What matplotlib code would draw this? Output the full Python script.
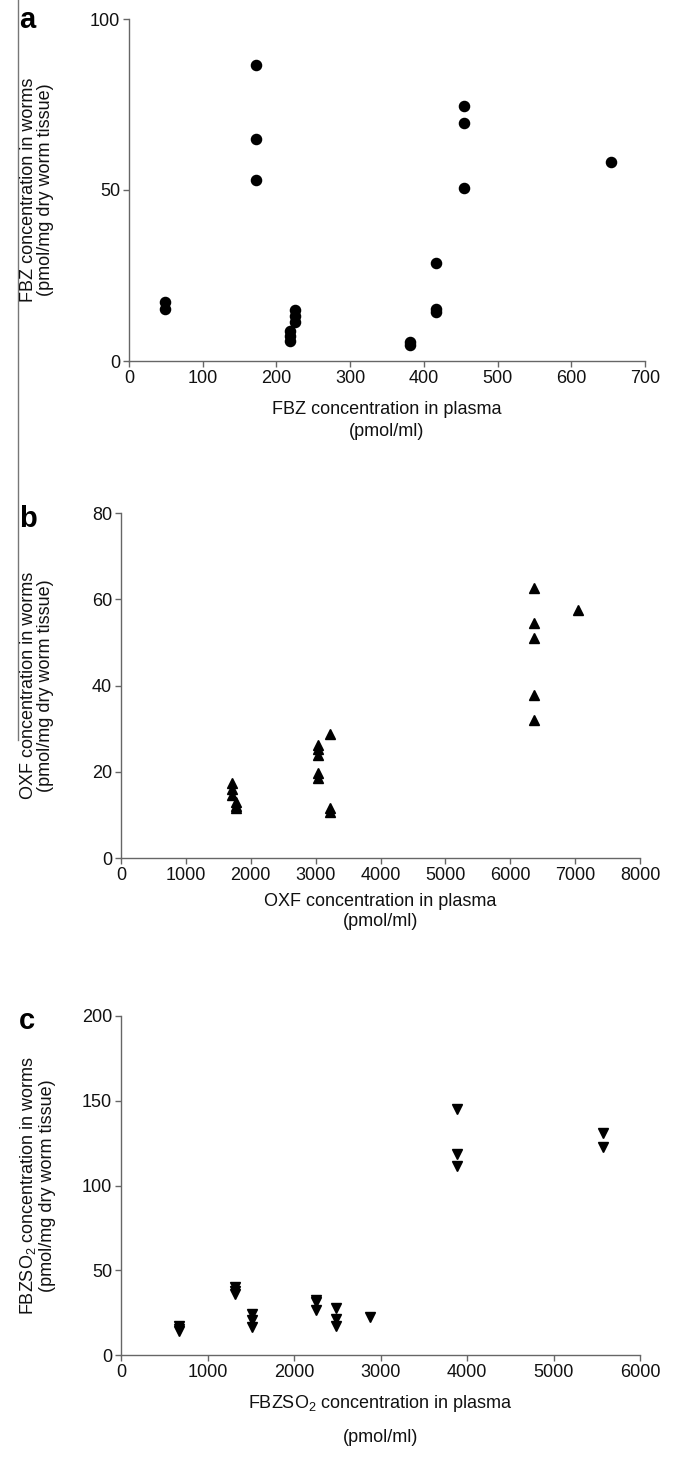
import matplotlib.pyplot as plt
from matplotlib.lines import Line2D

plt.rcParams['font.family'] = ['Liberation Sans', 'DejaVu Sans']
plt.rcParams['mathtext.fontset'] = 'custom'
plt.rcParams['mathtext.rm'] = 'Liberation Sans'
plt.rcParams['mathtext.it'] = 'Liberation Sans:italic'

# panel a - FBZ (circles)
fbz_plasma = [49, 49, 172, 172, 172, 218, 218, 218, 225, 225, 225,
              381, 381, 416, 416, 416, 455, 455, 455, 654]
fbz_worm = [17.3, 15.1, 86.5, 64.9, 52.9, 8.8, 7.3, 5.8, 14.8, 13.2, 11.5,
            5.5, 4.8, 28.8, 15.1, 14.3, 74.6, 69.5, 50.6, 58.1]

# panel b - OXF (up triangles)
oxf_plasma = [1715, 1715, 1715, 1777, 1777, 1777, 3040, 3040, 3040, 3040, 3040,
              3215, 3215, 3215, 6359, 6359, 6359, 6359, 6359, 7046]
oxf_worm = [17.3, 16.0, 14.6, 13.0, 12.0, 11.5, 26.2, 25.3, 23.9, 19.6, 18.6,
            28.8, 11.5, 10.6, 62.6, 54.5, 50.9, 37.9, 32.1, 57.6]

# panel c - FBZSO2 (down triangles)
fbzso2_plasma = [675, 675, 675, 1315, 1315, 1315, 1516, 1516, 1516,
                 2256, 2256, 2256, 2484, 2484, 2484, 2877, 3890, 3890, 3890,
                 5570, 5570]
fbzso2_worm = [17.0, 15.5, 14.0, 40.2, 37.9, 35.8, 24.4, 20.6, 16.7,
               32.5, 31.2, 26.7, 27.9, 21.2, 17.1, 22.5, 145, 118.8, 111.7,
               131, 123]

W, H = 676, 1461
fig = plt.figure(figsize=(W / 100, H / 100), dpi=100)


def px_axes(left, right, top, bottom):
    return fig.add_axes([left / W, 1 - bottom / H, (right - left) / W, (bottom - top) / H])


panels = [
    dict(box=(129, 645, 19, 361), x=fbz_plasma, y=fbz_worm, marker='o', ms=7.3,
         xticks=range(0, 701, 100), yticks=[0, 50, 100],
         ylab="FBZ concentration in worms\n(pmol/mg dry worm tissue)",
         xlab=["FBZ concentration in plasma", "(pmol/ml)"], xlab_y=(410, 432),
         letter='a', letter_y=20),
    dict(box=(121, 640, 513, 858), x=oxf_plasma, y=oxf_worm, marker='^', ms=7.3,
         xticks=range(0, 8001, 1000), yticks=range(0, 81, 20),
         ylab="OXF concentration in worms\n(pmol/mg dry worm tissue)",
         xlab=["OXF concentration in plasma", "(pmol/ml)"], xlab_y=(901, 922),
         letter='b', letter_y=519),
    dict(box=(121, 640, 1016, 1355), x=fbzso2_plasma, y=fbzso2_worm, marker='v', ms=7.3,
         xticks=range(0, 6001, 1000), yticks=range(0, 201, 50),
         ylab="FBZSO$_2$ concentration in worms\n(pmol/mg dry worm tissue)",
         xlab=["FBZSO$_2$ concentration in plasma", "(pmol/ml)"], xlab_y=(1403, 1437),
         letter='c', letter_y=1021),
]

for p in panels:
    l, r, t, b = p['box']
    ax = px_axes(l, r, t, b)
    ax.plot(p['x'], p['y'], linestyle='none', marker=p['marker'],
            markersize=p['ms'], color='black', clip_on=False)
    ax.set_xlim(p['xticks'][0], p['xticks'][-1])
    ax.set_ylim(p['yticks'][0], p['yticks'][-1])
    ax.set_xticks(list(p['xticks']))
    ax.set_yticks(list(p['yticks']))
    for s in ['top', 'right']:
        ax.spines[s].set_visible(False)
    for s in ['left', 'bottom']:
        ax.spines[s].set_color('#666666')
        ax.spines[s].set_linewidth(1.0)
    ax.tick_params(direction='out', length=4.5, width=1.0, color='#666666',
                   labelsize=13, labelcolor='#111111', pad=2)
    # y label, two lines, centred on the axis
    fig.text(37 / W, 1 - (t + b) / 2 / H, p['ylab'], rotation=90,
             ha='center', va='center', multialignment='center',
             fontsize=13, color='#111111', linespacing=1.05)
    cx = (l + r) / 2 / W
    for txt, yy in zip(p['xlab'], p['xlab_y']):
        fig.text(cx, 1 - yy / H, txt, ha='center', va='center',
                 fontsize=13, color='#111111')
    fig.text(19 / W, 1 - p['letter_y'] / H, p['letter'], ha='left', va='center',
             fontsize=21, fontweight='bold', color='black')

# thin frame line on the left edge of the scanned figure
fig.add_artist(Line2D([18 / W, 18 / W], [1.0, 1 - 740 / H], transform=fig.transFigure,
                      color='#777777', linewidth=1.0))

fig.savefig('out.png', dpi=100)
